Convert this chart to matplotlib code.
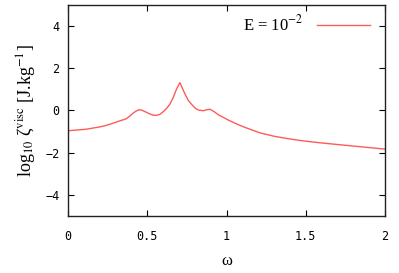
import matplotlib
matplotlib.use("Agg")
import matplotlib.pyplot as plt

omega = [0.0, 0.113, 0.20, 0.240, 0.277, 0.32, 0.366, 0.391, 0.410, 0.429, 0.450,
         0.470, 0.496, 0.517, 0.538, 0.558, 0.580, 0.602, 0.622, 0.643, 0.664,
         0.685, 0.706, 0.722, 0.738, 0.757, 0.780, 0.801, 0.822, 0.853, 0.873,
         0.895, 0.921, 0.948, 1.011, 1.064, 1.116, 1.211, 1.305, 1.400, 1.494,
         1.589, 1.778, 2.0]
log_zeta = [-0.96, -0.89, -0.78, -0.71, -0.62, -0.51, -0.40, -0.26, -0.13, -0.03, 0.04,
            0.0, -0.09, -0.17, -0.22, -0.23, -0.18, -0.05, 0.10, 0.30, 0.62,
            1.02, 1.32, 1.05, 0.78, 0.50, 0.29, 0.12, 0.02, -0.01, 0.03,
            0.06, -0.05, -0.20, -0.45, -0.64, -0.80, -1.06, -1.23, -1.35, -1.45,
            -1.53, -1.67, -1.83]
xticks = [0, 0.5, 1, 1.5, 2]
xticklabels = ["0", "0.5", "1", "1.5", "2"]
yticks = [-4, -2, 0, 2, 4]
yticklabels = ["\u22124", "\u22122", "0", "2", "4"]

plt.rcParams['mathtext.fontset'] = 'stix'
plt.rcParams['font.family'] = 'Liberation Serif'

fig = plt.figure(figsize=(3.99, 2.73), dpi=100)
ax = fig.add_axes([0.1704, 0.2088, 0.7946, 0.773])
ax.plot(omega, log_zeta, color='#ff5a5a', lw=1.0, label=r'E = 10$^{-2}$')
ax.set_xlim(0, 2)
ax.set_ylim(-5, 5)
ax.set_xticks(xticks)
ax.set_xticklabels(xticklabels, family='DejaVu Sans Mono', fontsize=8.5)
ax.set_yticks(yticks)
ax.set_yticklabels(yticklabels, family='DejaVu Sans Mono', fontsize=8.5)
ax.tick_params(direction='in', top=True, right=True, length=4, width=0.8, pad=10)
ax.tick_params(axis='y', pad=6)
for s in ax.spines.values():
    s.set_linewidth(1.0)
    s.set_color('#222222')
ax.set_xlabel('ω', fontsize=12, labelpad=7)
ax.set_ylabel(r'log$_{10}$ ζ$^{\rm visc}$ [J.kg$^{-1}$]', fontsize=13, labelpad=5)
leg = ax.legend(loc='upper right', frameon=False, fontsize=12, markerfirst=False,
                handlelength=3.2, bbox_to_anchor=(1.0, 1.025))
fig.savefig('out.png', dpi=100)
